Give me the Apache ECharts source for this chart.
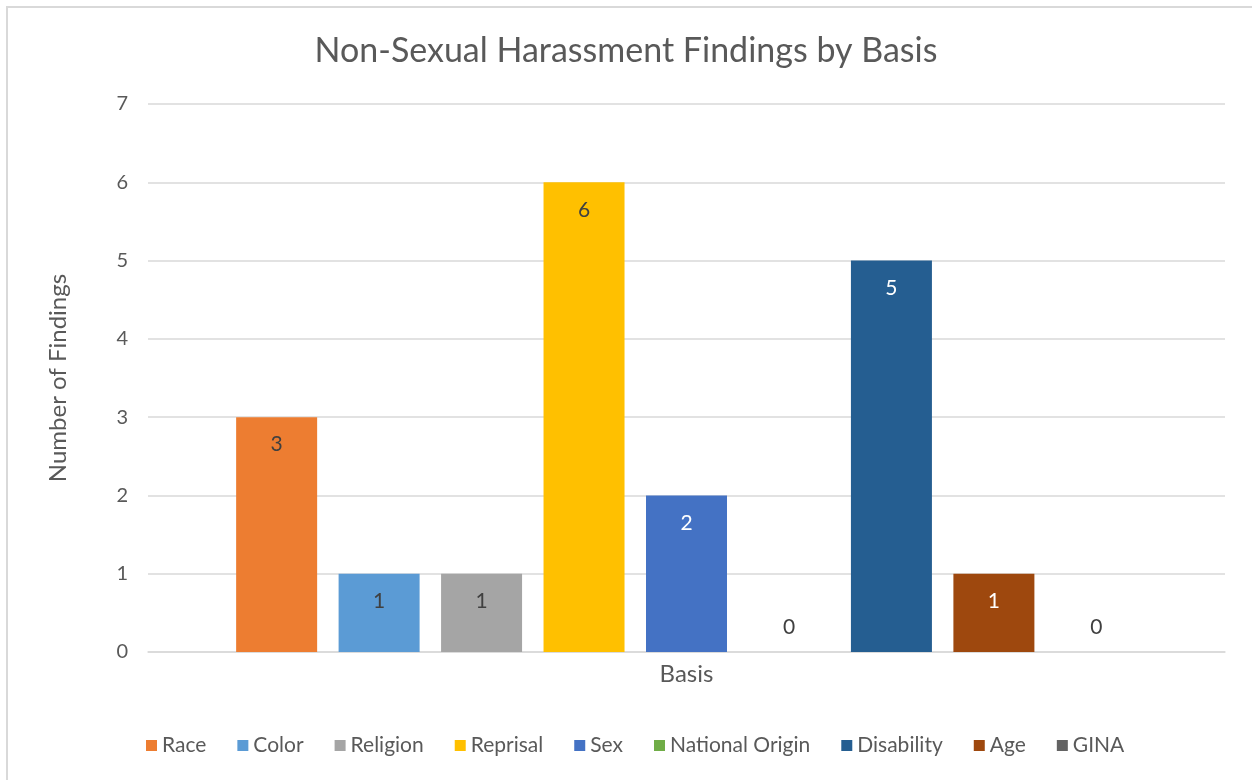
<!DOCTYPE html>
<html>
<head>
<meta charset="utf-8">
<script src="https://cdn.jsdelivr.net/npm/echarts@6/dist/echarts.min.js"></script>
<style>
html,body{margin:0;padding:0;background:#fff;}
#frame{position:absolute;left:6px;top:6px;width:1300px;height:800px;border-left:2px solid #d9d9d9;border-top:2px solid #d9d9d9;}
#chart{position:absolute;left:0;top:0;width:1252px;height:780px;}
</style>
</head>
<body>
<div id="frame"></div>
<div id="chart"></div>
<script>
const categories = ['Basis'];
const seriesNames = ['Race','Color','Religion','Reprisal','Sex','National Origin','Disability','Age','GINA'];
const seriesValues = [3,1,1,6,2,0,5,1,0];
const seriesColors = ['#ed7d31','#5b9bd5','#a5a5a5','#ffc000','#4472c4','#70ad47','#255e91','#9e480e','#636363'];
const labelColors = ['#404040','#404040','#404040','#404040','#ffffff','#404040','#ffffff','#ffffff','#404040'];
const yTicks = [0,1,2,3,4,5,6,7];

const FONT = 'Lato';
const chart = echarts.init(document.getElementById('chart'), null, {renderer:'canvas'});
const series = seriesNames.map((name,i)=>{
  const v = seriesValues[i];
  const lbl = v === 0
    ? {show:true, position:'top', distance:14, color:labelColors[i], fontSize:21, fontFamily:FONT}
    : {show:true, position:'insideTop', distance:17, color:labelColors[i], fontSize:21, fontFamily:FONT};
  return {
    name, type:'bar', data:[v], barWidth:81, barGap:'26.5%',
    itemStyle:{color:seriesColors[i]},
    label:lbl,
    emphasis:{disabled:true}
  };
});
chart.setOption({
  animation:false,
  backgroundColor:'transparent',
  title:{text:'Non-Sexual Harassment Findings by Basis', left:'center', top:29,
    textStyle:{fontFamily:FONT, fontSize:34, fontWeight:'normal', color:'#595959'}},
  grid:{left:148, right:27, top:104, bottom:128, containLabel:false},
  legend:{bottom:19, left:141, itemWidth:11, itemHeight:11, itemGap:31, icon:'rect',
    textStyle:{fontFamily:FONT, fontSize:21, color:'#595959'},
    data:seriesNames},
  xAxis:{type:'category', data:categories, name:'Basis', nameLocation:'middle', nameGap:10,
    nameTextStyle:{fontFamily:FONT, fontSize:24, color:'#595959'},
    axisLine:{lineStyle:{color:'#d9d9d9', width:1.5}}, axisTick:{show:false}, axisLabel:{show:false}},
  yAxis:{type:'value', min:0, max:7, interval:1, name:'Number of Findings', nameLocation:'middle', nameGap:78,
    nameTextStyle:{fontFamily:FONT, fontSize:24, color:'#595959'},
    axisLine:{show:false}, axisTick:{show:false},
    axisLabel:{fontFamily:FONT, fontSize:20, color:'#595959', margin:20,
      formatter:v=> yTicks.includes(v) ? String(v) : ''},
    splitLine:{lineStyle:{color:'#d9d9d9', width:1.5}}},
  series
});
</script>
</body>
</html>
